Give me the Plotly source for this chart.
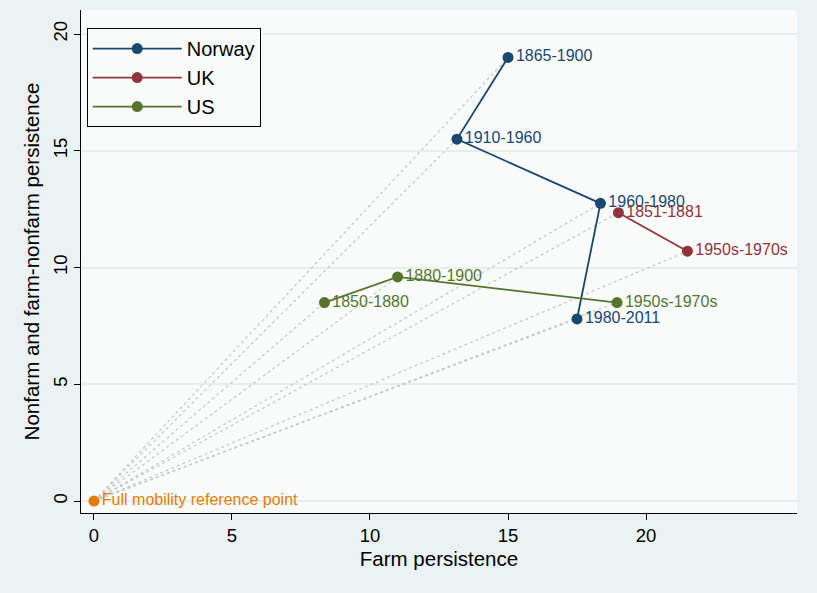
import plotly.graph_objects as go

# Data
norway_labels = ["1865-1900", "1910-1960", "1960-1980", "1980-2011"]
norway_x = [15.0, 13.15, 18.35, 17.5]
norway_y = [19.0, 15.5, 12.75, 7.8]

uk_labels = ["1851-1881", "1950s-1970s"]
uk_x = [19.0, 21.5]
uk_y = [12.35, 10.7]

us_labels = ["1850-1880", "1880-1900", "1950s-1970s"]
us_x = [8.35, 11.0, 18.95]
us_y = [8.5, 9.6, 8.5]

ref_label = ["Full mobility reference point"]
ref_x = [0.0]
ref_y = [0.0]

x_ticks = [0, 5, 10, 15, 20]
y_ticks = [0, 5, 10, 15, 20]

NAVY = "#1a476f"
MAROON = "#90353b"
GREEN = "#55752f"
ORANGE = "#e37e00"
FONT = "Liberation Sans, Arial, sans-serif"

fig = go.Figure()

# dotted rays from origin
rx, ry = [], []
for xs, ys in [(norway_x, norway_y), (uk_x, uk_y), (us_x, us_y)]:
    for a, b in zip(xs, ys):
        rx += [ref_x[0], a, None]
        ry += [ref_y[0], b, None]
fig.add_trace(go.Scatter(x=rx, y=ry, mode="lines", showlegend=False, hoverinfo="skip",
                         line=dict(color="#c8c8c8", width=1.2, dash="dot")))

for name, xs, ys, labs, col in [("Norway", norway_x, norway_y, norway_labels, NAVY),
                                 ("UK", uk_x, uk_y, uk_labels, MAROON),
                                 ("US", us_x, us_y, us_labels, GREEN)]:
    fig.add_trace(go.Scatter(x=xs, y=ys, mode="lines+markers+text", name=name,
                             text=labs, textposition="middle right",
                             textfont=dict(color=col, size=16, family=FONT),
                             line=dict(color=col, width=1.8),
                             marker=dict(color=col, size=11)))

fig.add_trace(go.Scatter(x=ref_x, y=ref_y, mode="markers+text", text=ref_label,
                         textposition="middle right", showlegend=False,
                         textfont=dict(color=ORANGE, size=16, family=FONT),
                         marker=dict(color=ORANGE, size=11)))

fig.update_layout(
    width=817, height=593,
    margin=dict(l=81, r=20, t=10, b=80),
    paper_bgcolor="#eaf2f3",
    plot_bgcolor="#f8fbfa",
    font=dict(family=FONT, color="black"),
    legend=dict(x=0.008, y=0.964, xanchor="left", yanchor="top",
                bgcolor="#f8fbfa", bordercolor="black", borderwidth=1,
                font=dict(size=20, family=FONT), itemwidth=89,
                tracegroupgap=0),
    xaxis=dict(range=[-0.47, 25.47], tickvals=x_ticks, ticktext=[str(v) for v in x_ticks],
               showgrid=False, zeroline=False, showline=True, linecolor="black", linewidth=1,
               ticks="outside", ticklen=6, tickcolor="black",
               tickfont=dict(size=18.5), title=dict(text="Farm persistence", font=dict(size=20.5), standoff=6)),
    yaxis=dict(range=[-0.51, 21.03], tickvals=y_ticks, ticktext=[str(v) for v in y_ticks],
               showgrid=True, gridcolor="#e6eeef", gridwidth=1.5, zeroline=False,
               showline=True, linecolor="black", linewidth=1,
               ticks="outside", ticklen=6, tickcolor="black", tickangle=-90,
               tickfont=dict(size=18.5),
               title=dict(text="Nonfarm and farm-nonfarm persistence", font=dict(size=20.5), standoff=4)),
)

fig.write_html("out.html", config={"displayModeBar": False},
               post_script="document.body.style.margin='0';")
